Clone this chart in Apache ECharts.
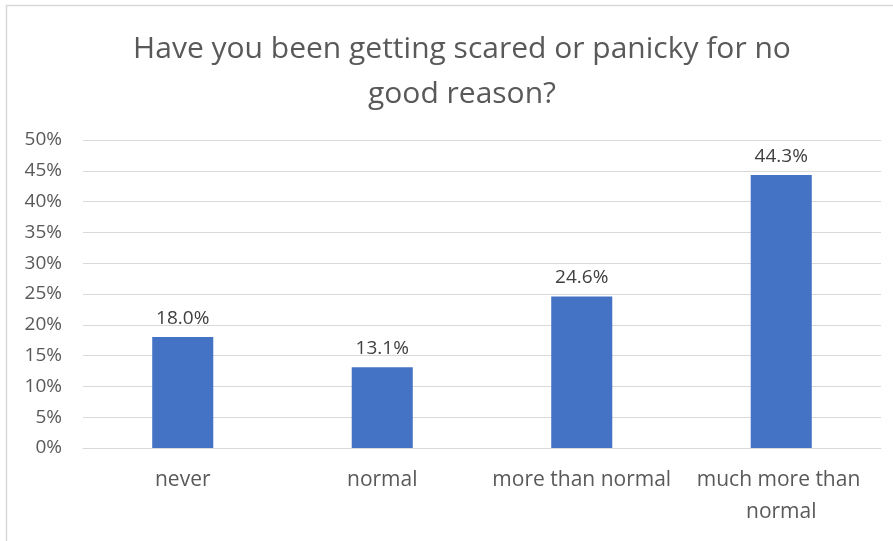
<!DOCTYPE html>
<html><head><meta charset="utf-8">
<script src="https://cdn.jsdelivr.net/npm/echarts@6/dist/echarts.min.js"></script>
<style>html,body{margin:0;padding:0;background:#fff}#c{width:893px;height:541px}</style>
</head><body><div id="c"></div>
<script>
const titleText = "Have you been getting scared or panicky for no\ngood reason?";
const categories = ["never", "normal", "more than normal", "much more than normal"];
const values = [18.0, 13.1, 24.6, 44.3];
const yTicks = [0, 5, 10, 15, 20, 25, 30, 35, 40, 45, 50];

const FONT = '"Open Sans"';
const chart = echarts.init(document.getElementById('c'));
chart.setOption({
  animation: false,
  backgroundColor: '#fff',
  textStyle: { fontFamily: FONT },
  title: {
    text: titleText, left: 457, top: 22, textAlign: 'center',
    textStyle: { fontFamily: FONT, fontSize: 30, fontWeight: 'normal', color: '#595959', lineHeight: 45 }
  },
  graphic: [{ type: 'rect', shape: { x: 6.5, y: 5.5, width: 1000, height: 1000 }, style: { fill: 'none', stroke: '#d9d9d9', lineWidth: 1.5 }, silent: true }],
  grid: { left: 83, right: 12, top: 140, bottom: 93, containLabel: false },
  xAxis: {
    type: 'category', data: categories,
    axisLine: { show: true, lineStyle: { color: '#d9d9d9' } },
    axisTick: { show: false },
    axisLabel: { color: '#595959', fontSize: 21, fontFamily: FONT, margin: 16, lineHeight: 32, width: 194, overflow: 'break', interval: 0 }
  },
  yAxis: {
    type: 'value', min: yTicks[0], max: yTicks[yTicks.length - 1], interval: 5,
    axisLine: { show: false }, axisTick: { show: false },
    axisLabel: { color: '#595959', fontSize: 19, fontFamily: FONT, margin: 21, formatter: v => v + '%' },
    splitLine: { lineStyle: { color: '#d9d9d9', width: 1 } }
  },
  series: [{
    type: 'bar', data: values, barWidth: '30.6%',
    itemStyle: { color: '#4472c4' },
    label: { show: true, position: 'top', distance: 9, color: '#404040', fontSize: 19, fontFamily: FONT, formatter: p => p.value.toFixed(1) + '%' }
  }]
});
</script></body></html>
